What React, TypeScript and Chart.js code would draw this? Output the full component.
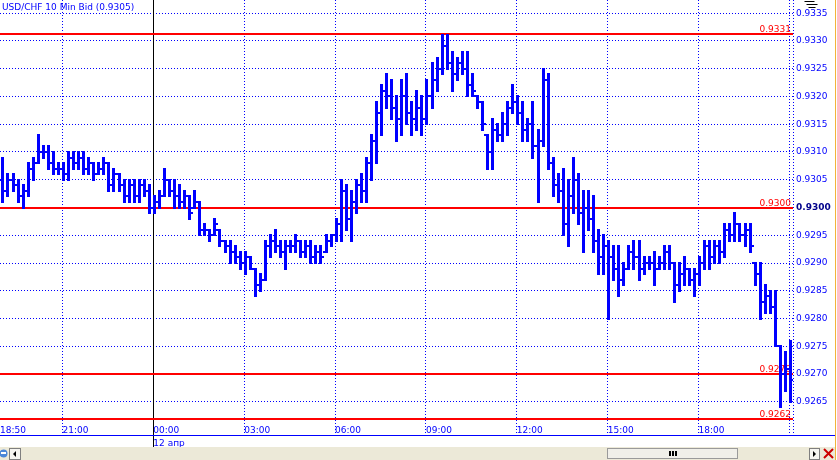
import { useEffect, useRef } from 'react';
import { Chart, registerables } from 'chart.js';
Chart.register(...registerables);

// ---- data: 10-minute bars from 18:50 (index 0) ----
const highs = [
  0.9308,0.9309,0.9306,0.9306,0.9305,0.9304,0.9308,0.9309,0.9313,0.9311,
  0.9311,0.9310,0.9308,0.9308,0.9310,0.9310,0.9310,0.9310,0.9309,0.9308,
  0.9308,0.9309,0.9308,0.9307,0.9306,0.9305,0.9305,0.9305,0.9305,0.9305,
  0.9304,0.9302,0.9303,0.9307,0.9305,0.9305,0.9304,0.9303,0.9302,0.9303,
  0.9301,0.9297,0.9296,0.9298,0.9296,0.9294,0.9294,0.9293,0.9292,0.9292,
  0.9291,0.9289,0.9288,0.9294,0.9295,0.9296,0.9294,0.9294,0.9294,0.9295,
  0.9294,0.9294,0.9294,0.9293,0.9293,0.9295,0.9295,0.9298,0.9305,0.9304,
  0.9303,0.9305,0.9306,0.9309,0.9313,0.9319,0.9322,0.9324,0.9323,0.9320,
  0.9323,0.9324,0.9319,0.9321,0.9320,0.9323,0.9326,0.9327,0.9331,0.9331,
  0.9328,0.9327,0.9328,0.9328,0.9324,0.9320,0.9319,0.9313,0.9316,0.9315,
  0.9317,0.9319,0.9322,0.9320,0.9319,0.9316,0.9319,0.9314,0.9325,0.9324,
  0.9309,0.9306,0.9307,0.9305,0.9309,0.9306,0.9303,0.9303,0.9302,0.9296,
  0.9295,0.9294,0.9293,0.9293,0.9290,0.9293,0.9294,0.9294,0.9291,0.9291,
  0.9292,0.9291,0.9293,0.9293,0.9290,0.9290,0.9291,0.9289,0.9289,0.9291,
  0.9294,0.9294,0.9294,0.9294,0.9297,0.9297,0.9299,0.9297,0.9297,0.9297,
  0.9290,0.9290,0.9286,0.9285,0.9285,0.9275,0.9274,0.9276,
];
const lows = [
  0.9303,0.9301,0.9302,0.9303,0.9301,0.9300,0.9302,0.9305,0.9308,0.9309,
  0.9307,0.9306,0.9306,0.9305,0.9305,0.9307,0.9307,0.9306,0.9306,0.9305,
  0.9306,0.9306,0.9303,0.9303,0.9303,0.9301,0.9301,0.9301,0.9301,0.9302,
  0.9299,0.9299,0.9300,0.9302,0.9302,0.9300,0.9300,0.9300,0.9298,0.9300,
  0.9295,0.9295,0.9294,0.9295,0.9293,0.9292,0.9290,0.9290,0.9289,0.9288,
  0.9289,0.9284,0.9285,0.9287,0.9291,0.9292,0.9291,0.9289,0.9292,0.9292,
  0.9291,0.9291,0.9290,0.9290,0.9290,0.9292,0.9293,0.9294,0.9294,0.9296,
  0.9294,0.9299,0.9301,0.9301,0.9305,0.9308,0.9313,0.9318,0.9316,0.9312,
  0.9313,0.9315,0.9313,0.9314,0.9313,0.9315,0.9318,0.9321,0.9324,0.9325,
  0.9321,0.9323,0.9324,0.9320,0.9320,0.9318,0.9314,0.9307,0.9307,0.9312,
  0.9312,0.9313,0.9317,0.9315,0.9312,0.9312,0.9309,0.9301,0.9311,0.9307,
  0.9302,0.9301,0.9295,0.9293,0.9299,0.9297,0.9292,0.9296,0.9292,0.9288,
  0.9288,0.9280,0.9287,0.9284,0.9286,0.9289,0.9289,0.9287,0.9288,0.9289,
  0.9286,0.9289,0.9289,0.9289,0.9283,0.9285,0.9286,0.9286,0.9284,0.9286,
  0.9289,0.9289,0.9290,0.9290,0.9291,0.9294,0.9294,0.9294,0.9293,0.9292,
  0.9286,0.9280,0.9281,0.9281,0.9275,0.9264,0.9267,0.9265,
];
const opens = [
  0.9306,0.9305,0.9303,0.9305,0.9304,0.9302,0.9303,0.9307,0.9308,0.9310,
  0.9310,0.9308,0.9307,0.9307,0.9306,0.9309,0.9308,0.9309,0.9307,0.9308,
  0.9306,0.9307,0.9308,0.9304,0.9306,0.9304,0.9302,0.9304,0.9302,0.9304,
  0.9303,0.9300,0.9301,0.9302,0.9305,0.9303,0.9302,0.9301,0.9302,0.9300,
  0.9301,0.9296,0.9296,0.9295,0.9296,0.9294,0.9293,0.9292,0.9291,0.9290,
  0.9291,0.9289,0.9286,0.9287,0.9293,0.9294,0.9293,0.9292,0.9293,0.9293,
  0.9294,0.9292,0.9293,0.9291,0.9292,0.9292,0.9294,0.9295,0.9297,0.9303,
  0.9298,0.9301,0.9304,0.9303,0.9308,0.9312,0.9317,0.9321,0.9320,0.9318,
  0.9316,0.9320,0.9317,0.9316,0.9318,0.9316,0.9320,0.9323,0.9325,0.9329,
  0.9326,0.9324,0.9326,0.9325,0.9322,0.9320,0.9319,0.9313,0.9310,0.9314,
  0.9313,0.9315,0.9318,0.9319,0.9317,0.9314,0.9315,0.9311,0.9312,0.9323,
  0.9308,0.9304,0.9303,0.9297,0.9302,0.9305,0.9299,0.9300,0.9298,0.9294,
  0.9291,0.9293,0.9291,0.9289,0.9287,0.9289,0.9292,0.9291,0.9289,0.9290,
  0.9290,0.9289,0.9290,0.9292,0.9290,0.9286,0.9288,0.9289,0.9287,0.9288,
  0.9290,0.9293,0.9291,0.9293,0.9292,0.9296,0.9295,0.9297,0.9295,0.9296,
  0.9290,0.9288,0.9283,0.9284,0.9282,0.9275,0.9270,0.9271,
];
const closes = [
  0.9305,0.9303,0.9305,0.9304,0.9302,0.9303,0.9307,0.9308,0.9310,0.9310,
  0.9308,0.9307,0.9307,0.9306,0.9309,0.9308,0.9309,0.9307,0.9308,0.9306,
  0.9307,0.9308,0.9304,0.9306,0.9304,0.9302,0.9304,0.9302,0.9304,0.9303,
  0.9300,0.9301,0.9302,0.9305,0.9303,0.9302,0.9301,0.9302,0.9299,0.9301,
  0.9296,0.9296,0.9295,0.9297,0.9294,0.9293,0.9292,0.9291,0.9290,0.9291,
  0.9289,0.9286,0.9287,0.9293,0.9294,0.9293,0.9292,0.9293,0.9293,0.9294,
  0.9292,0.9293,0.9291,0.9292,0.9291,0.9294,0.9295,0.9297,0.9303,0.9298,
  0.9301,0.9304,0.9303,0.9308,0.9312,0.9317,0.9321,0.9320,0.9318,0.9316,
  0.9320,0.9317,0.9316,0.9318,0.9316,0.9320,0.9323,0.9325,0.9329,0.9326,
  0.9324,0.9326,0.9325,0.9322,0.9321,0.9319,0.9315,0.9310,0.9314,0.9313,
  0.9315,0.9318,0.9319,0.9317,0.9314,0.9315,0.9311,0.9312,0.9323,0.9308,
  0.9304,0.9303,0.9297,0.9302,0.9305,0.9299,0.9300,0.9298,0.9294,0.9291,
  0.9293,0.9291,0.9289,0.9287,0.9289,0.9292,0.9291,0.9289,0.9290,0.9290,
  0.9289,0.9290,0.9292,0.9290,0.9286,0.9288,0.9289,0.9287,0.9288,0.9290,
  0.9293,0.9291,0.9293,0.9292,0.9296,0.9295,0.9297,0.9295,0.9296,0.9293,
  0.9288,0.9283,0.9284,0.9282,0.9275,0.9270,0.9271,0.9269,
];

const yTicks = [0.9265,0.9270,0.9275,0.9280,0.9285,0.9290,0.9295,0.9300,0.9305,0.9310,0.9315,0.9320,0.9325,0.9330,0.9335];
const xTickIndex = [0.62, 13, 31, 49, 67, 85, 103, 121, 139, 157];
const xTickLabels: (string | string[])[] = ['18:50','21:00',['00:00','12 апр'],'03:00','06:00','09:00','12:00','15:00','18:00',''];
const dayBreakIndex = 31;
const levels = [0.93313, 0.9300, 0.9270, 0.9262];
const levelLabels = ['0.9331','0.9300','0.9270','0.9262'];
const boldTick = 0.9300;
const title = 'USD/CHF 10 Min Bid (0.9305)';

const X_MIN = 0.62;
const X_MAX = 157.7;
const Y_MIN = 0.926173;
const Y_MAX = 0.933737;

const BLUE = '#0000ff';
const RED = '#ff0000';
const FONT = 'DejaVu Sans';

function drawChrome(ctx: CanvasRenderingContext2D) {
  ctx.fillStyle = BLUE;
  ctx.fillRect(0, 435, 835, 1);
  ctx.fillStyle = '#ece9d8';
  ctx.fillRect(0, 447, 835, 13);
  ctx.fillStyle = '#4a86d8';
  ctx.beginPath(); ctx.arc(3.5, 453.5, 4, 0, Math.PI * 2); ctx.fill();
  ctx.fillStyle = '#ffffff';
  ctx.fillRect(1, 452, 5, 2);
  ctx.fillStyle = '#f6f5f0';
  ctx.fillRect(9, 448, 12, 12);
  ctx.strokeStyle = '#7f7f7f'; ctx.lineWidth = 1;
  ctx.strokeRect(9.5, 448.5, 11, 11);
  ctx.fillStyle = '#000';
  ctx.beginPath(); ctx.moveTo(13, 454); ctx.lineTo(16, 451); ctx.lineTo(16, 457); ctx.closePath(); ctx.fill();
  ctx.fillStyle = '#f0efe9';
  ctx.fillRect(607, 448, 131, 11);
  ctx.strokeStyle = '#9a9a9a';
  ctx.strokeRect(607.5, 448.5, 130, 10);
  ctx.fillStyle = '#000';
  ctx.fillRect(669, 451, 2, 5); ctx.fillRect(672, 451, 2, 5); ctx.fillRect(675, 451, 2, 5);
  ctx.fillStyle = '#f6f5f0';
  ctx.fillRect(809, 448, 11, 12);
  ctx.strokeStyle = '#7f7f7f';
  ctx.strokeRect(809.5, 448.5, 10, 11);
  ctx.fillStyle = '#000';
  ctx.beginPath(); ctx.moveTo(816, 454); ctx.lineTo(813, 451); ctx.lineTo(813, 457); ctx.closePath(); ctx.fill();
  ctx.strokeStyle = '#cc0000'; ctx.lineWidth = 2;
  ctx.beginPath(); ctx.moveTo(824, 449); ctx.lineTo(833, 458); ctx.moveTo(833, 449); ctx.lineTo(824, 458); ctx.stroke();
  ctx.lineWidth = 1;
  ctx.fillStyle = '#f2b23a';
  ctx.fillRect(835, 0, 1, 460);
  ctx.strokeStyle = '#000';
  ctx.beginPath();
  ctx.moveTo(804.5, 1.5); ctx.lineTo(814.5, 1.5);
  ctx.moveTo(806.5, 4.5); ctx.lineTo(817.5, 4.5);
  ctx.moveTo(808.5, 7.5); ctx.lineTo(815.5, 7.5);
  ctx.stroke();
}

const ohlcPlugin = {
  id: 'ohlc',
  beforeDraw(chart: any) {
    const ctx = chart.ctx as CanvasRenderingContext2D;
    ctx.save();
    ctx.fillStyle = '#ffffff';
    ctx.fillRect(0, 0, chart.width, chart.height);
    ctx.restore();
  },
  afterDatasetsDraw(chart: any) {
    const ctx = chart.ctx as CanvasRenderingContext2D;
    const a = chart.chartArea;
    const x = chart.scales.x;
    const y = chart.scales.y;
    ctx.save();
    const sx = Math.floor(x.getPixelForValue(dayBreakIndex));
    ctx.fillStyle = '#000000';
    ctx.fillRect(sx, 0, 1, 447);
    ctx.strokeStyle = BLUE;
    ctx.setLineDash([1, 2]);
    ctx.beginPath();
    ctx.moveTo(a.right + 0.5, 0); ctx.lineTo(a.right + 0.5, 435);
    ctx.stroke();
    ctx.setLineDash([]);

    ctx.beginPath();
    ctx.rect(a.left, a.top, a.right - a.left, a.bottom - a.top);
    ctx.clip();
    ctx.font = `9px "${FONT}"`;
    ctx.textAlign = 'right';
    ctx.textBaseline = 'alphabetic';
    levels.forEach((lv, k) => {
      const py = Math.round(y.getPixelForValue(lv));
      ctx.fillStyle = RED;
      ctx.fillRect(a.left, py - 1, a.right - a.left, 2);
      ctx.fillText(levelLabels[k], a.right - 2, py - 2);
    });
    ctx.fillStyle = BLUE;
    for (let i = 0; i < highs.length; i++) {
      const cx = Math.floor(x.getPixelForValue(i));
      const yh = Math.round(y.getPixelForValue(highs[i]));
      const yl = Math.round(y.getPixelForValue(lows[i]));
      const yo = Math.round(y.getPixelForValue(opens[i]));
      const yc = Math.round(y.getPixelForValue(closes[i]));
      ctx.fillRect(cx, yh - 1, 3, yl - yh + 2);
      ctx.fillRect(cx - 2, yo - 1, 2, 2);
      ctx.fillRect(cx + 3, yc - 1, 2, 2);
    }
    ctx.restore();

    ctx.save();
    drawChrome(ctx);
    ctx.fillStyle = BLUE;
    ctx.font = `9px "${FONT}"`;
    ctx.textAlign = 'left';
    ctx.textBaseline = 'alphabetic';
    ctx.fillText(title, 2, 10);
    ctx.restore();
  },
};

export default function App() {
  const ref = useRef<HTMLCanvasElement>(null);
  useEffect(() => {
    const canvas = ref.current!;
    const chart = new Chart(canvas, {
      type: 'line',
      data: {
        datasets: [{
          label: 'USD/CHF',
          data: closes.map((c, i) => ({ x: i, y: c })),
          showLine: false,
          pointRadius: 0,
          borderWidth: 0,
        }],
      },
      options: {
        responsive: false,
        animation: false,
        events: [],
        layout: { padding: 0 },
        plugins: { legend: { display: false }, tooltip: { enabled: false } },
        scales: {
          x: {
            type: 'linear',
            position: 'bottom',
            min: X_MIN,
            max: X_MAX,
            afterBuildTicks: (s: any) => { s.ticks = xTickIndex.map((v) => ({ value: v })); },
            afterFit: (s: any) => { s.height = 40; s.paddingLeft = 0; s.paddingRight = 0; },
            ticks: {
              autoSkip: false,
              maxRotation: 0,
              minRotation: 0,
              align: 'start',
              padding: -11,
              color: BLUE,
              font: { family: FONT, size: 9, lineHeight: '13px' } as any,
              callback: (_v: any, idx: number) => xTickLabels[idx],
            },
            grid: {
              color: (c: any) => (c.index === 0 || c.index === 2 ? 'rgba(0,0,0,0)' : BLUE),
              lineWidth: 1,
              drawTicks: true,
              tickLength: 15,
              tickBorderDash: [1, 2],
            } as any,
            border: { display: false, dash: [1, 2] },
          },
          y: {
            type: 'linear',
            position: 'right',
            min: Y_MIN,
            max: Y_MAX,
            afterBuildTicks: (s: any) => { s.ticks = yTicks.map((v) => ({ value: v })); },
            afterFit: (s: any) => { s.width = 44; s.paddingTop = 0; s.paddingBottom = 0; },
            ticks: {
              padding: 3,
              color: (c: any) => (c.tick && Math.abs(c.tick.value - boldTick) < 1e-7 ? '#00008b' : BLUE),
              font: (c: any) => (c.tick && Math.abs(c.tick.value - boldTick) < 1e-7
                ? { family: FONT, size: 9, weight: 'bold' }
                : { family: FONT, size: 9 }) as any,
              callback: (v: any) => Number(v).toFixed(4),
            },
            grid: { color: BLUE, lineWidth: 1, drawTicks: false },
            border: { display: false, dash: [1, 2] },
          },
        },
      },
      plugins: [ohlcPlugin],
    } as any);
    return () => chart.destroy();
  }, []);
  return (
    <div style={{ position: 'absolute', left: 0, top: 0, width: 837, height: 460, background: '#fff' }}>
      <canvas ref={ref} width={837} height={460} style={{ display: 'block', width: 837, height: 460 }} />
    </div>
  );
}
